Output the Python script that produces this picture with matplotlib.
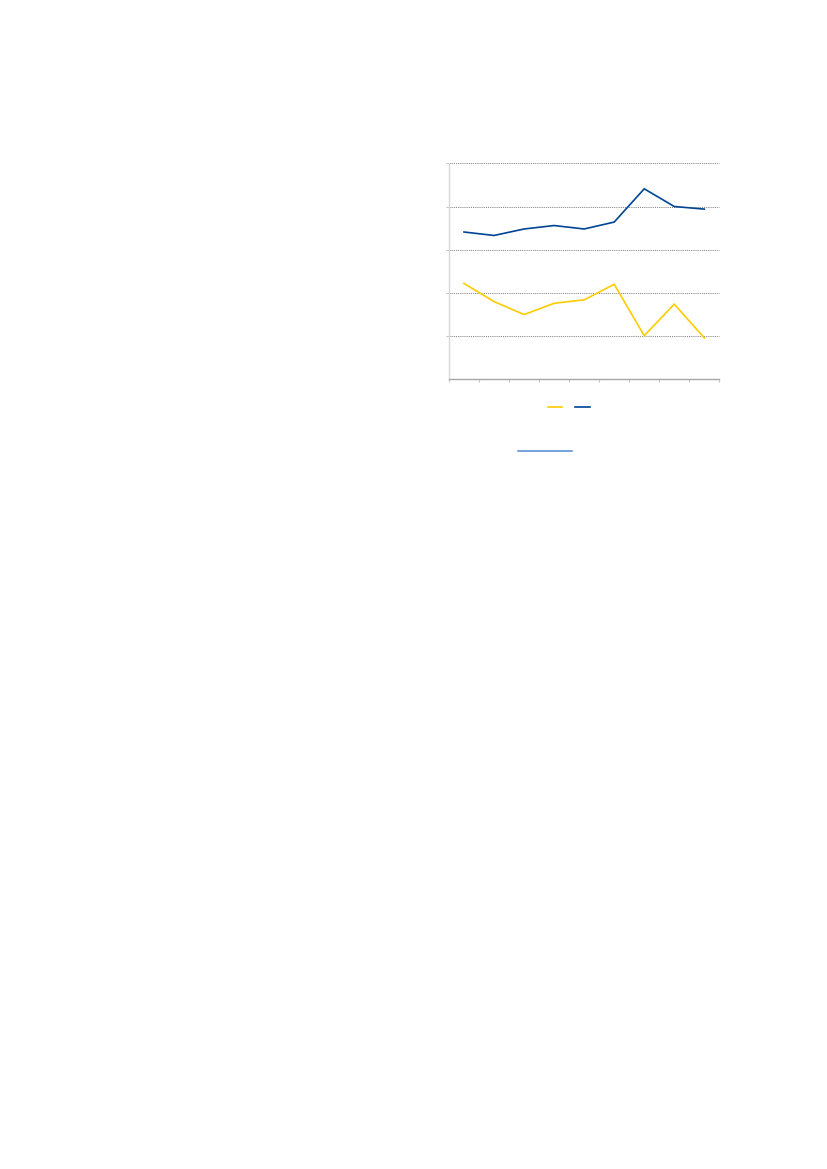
import numpy as np
import matplotlib
matplotlib.use('Agg')
import matplotlib.pyplot as plt
from matplotlib.lines import Line2D

# values (gridlines every 10 units, no labels shown)
categories = ['1', '2', '3', '4', '5', '6', '7', '8', '9']
blue_values = [34.1, 33.3, 34.8, 35.6, 34.8, 36.4, 44.1, 40.0, 39.4]
yellow_values = [22.2, 18.0, 15.0, 17.6, 18.4, 22.0, 10.1, 17.4, 9.6]
grid_levels = [10, 20, 30, 40, 50]

EU_BLUE = '#004494'
EU_YELLOW = '#FFCC00'

fig = plt.figure(figsize=(8.27, 11.69), dpi=100)
ax = fig.add_axes([0.5429, 0.6755, 0.3269, 0.1848])

x = np.arange(len(categories))
yl, = ax.plot(x, yellow_values, color=EU_YELLOW, linewidth=1.2, solid_joinstyle='miter')
bl, = ax.plot(x, blue_values, color=EU_BLUE, linewidth=1.2, solid_joinstyle='miter')

ax.set_xlim(-0.5, len(categories) - 0.5)
ax.set_ylim(0, 50)

# dotted gridlines
for g in grid_levels:
    ax.axhline(g, color='#8c8c8c', linewidth=0.7, linestyle=(0, (1.2, 1.0)),
               zorder=0, clip_on=False)

for s in ['top', 'right']:
    ax.spines[s].set_visible(False)
ax.spines['left'].set_color('#d9d9d9')
ax.spines['left'].set_linewidth(1.0)
ax.spines['bottom'].set_color('#a6a6a6')
ax.spines['bottom'].set_linewidth(1.0)

ax.set_xticks([])
ax.set_xticks(np.arange(-0.5, len(categories)), minor=True)
ax.tick_params(axis='x', which='minor', length=2.5, width=0.8, color='#c8c8c8',
               labelbottom=False)
ax.set_yticks(grid_levels)
ax.tick_params(axis='y', length=2, width=0.7, color='#bfbfbf', labelleft=False)

leg = ax.legend([yl, bl], ['', ''], ncol=2, frameon=False, fontsize=8,
                handlelength=1.3, handletextpad=0.0, columnspacing=1.15,
                loc='center', bbox_to_anchor=(0.443, -0.132))

# underlined link below the legend
fig.add_artist(Line2D([518 / 827, 572 / 827], [1 - 451 / 1169, 1 - 451 / 1169],
                      color='#4f8ad0', linewidth=1.1))

fig.savefig('out.png', dpi=100)
